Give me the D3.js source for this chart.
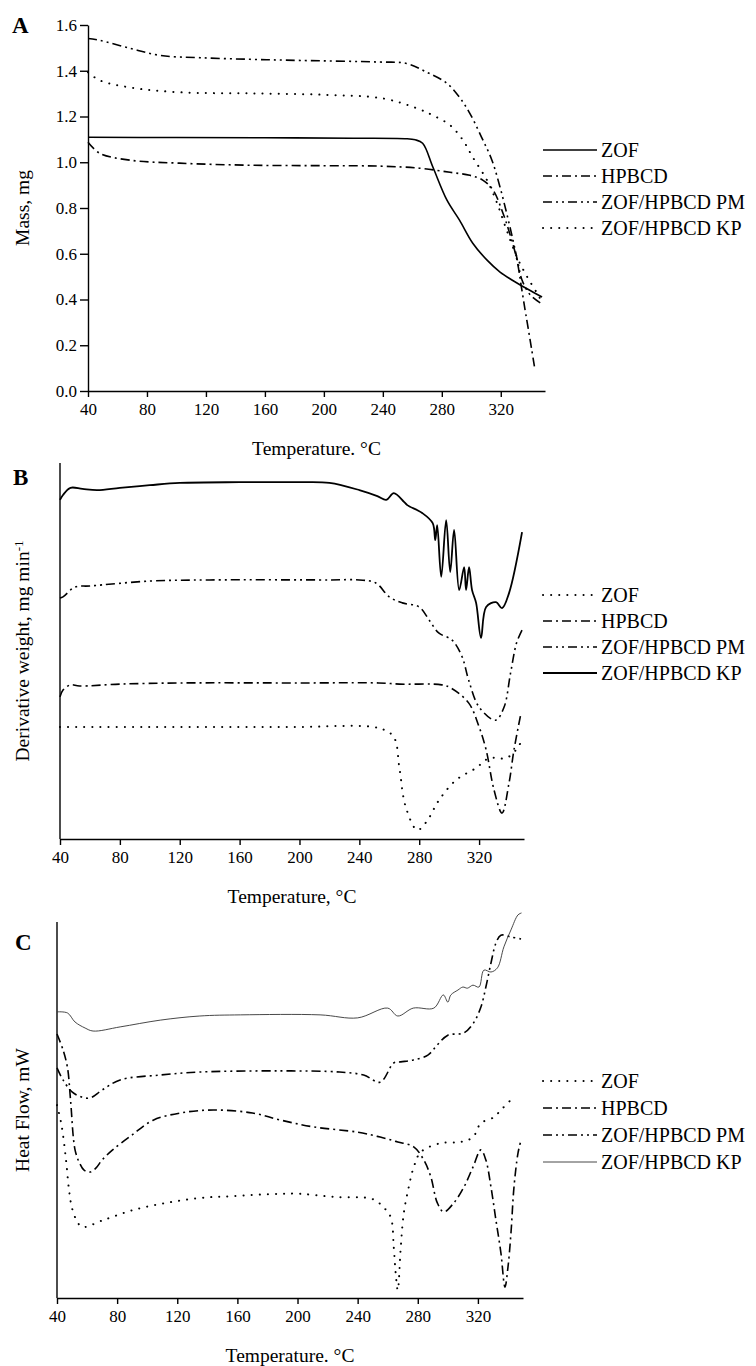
<!DOCTYPE html>
<html>
<head>
<meta charset="utf-8">
<script src="https://cdn.jsdelivr.net/npm/d3@7"></script>
<style>
  body { margin: 0; background: #fff; }
  text { font-family: "Liberation Serif", "Times New Roman", serif; fill: #000; }
</style>
</head>
<body>
<svg id="fig" width="756" height="1366"></svg>
<script>
// series names (legend text)
var names = ["ZOF", "HPBCD", "ZOF/HPBCD PM", "ZOF/HPBCD KP"];
var tempTicks = [40, 80, 120, 160, 200, 240, 280, 320];
var massTicks = [0.0, 0.2, 0.4, 0.6, 0.8, 1.0, 1.2, 1.4, 1.6];

// A: TGA, mass (mg) vs temperature (C)
var tgaZOF = [[40,1.109],[100,1.108],[160,1.107],[220,1.105],[255,1.103],[262,1.098],[267,1.083],[274,0.978],[283.5,0.834],[292,0.747],[301,0.646],[310.7,0.572],[319.5,0.520],[331,0.472],[342,0.432],[348,0.411]];
var tgaHPBCD = [[40,1.087],[48,1.039],[68.5,1.009],[102,0.996],[150,0.987],[200,0.985],[238,0.983],[265,0.974],[285.6,0.956],[299,0.943],[308,0.921],[314.8,0.878],[321.5,0.777],[326,0.690],[331,0.572],[334,0.454],[336.5,0.354],[338,0.297],[341,0.18],[343,0.1]];
var tgaPM = [[40,1.541],[48,1.533],[68.5,1.498],[89,1.467],[116,1.457],[150,1.450],[184,1.445],[238,1.438],[256,1.432],[270,1.393],[283.5,1.345],[292,1.284],[299,1.214],[307,1.109],[314,1.009],[319.5,0.891],[324,0.777],[328.3,0.659],[331.7,0.559],[334.4,0.485],[340,0.42],[348,0.38]];
var tgaKP = [[40,1.393],[48,1.358],[68.5,1.327],[102,1.306],[150,1.301],[200,1.295],[240,1.279],[263,1.236],[274,1.205],[285.6,1.162],[294.4,1.096],[301,1.022],[310.7,0.921],[317.5,0.821],[324,0.703],[331,0.585],[338,0.498],[344.6,0.428],[348,0.389]];

// B: DTG, derivative weight (arbitrary units, offset traces)
var dtgZOF = [[40,29.8],[100,29.8],[160,29.8],[200,29.8],[253,29.5],[263,27.1],[266.7,19.1],[271,8.5],[278.7,2.4],[284.7,4.5],[293.3,10.4],[304.7,15.7],[318,18.9],[326.7,21.5],[338,21.5],[344.7,23.7],[348,25.8]];
var dtgHPBCD = [[40,37.8],[42,39.6],[47,41.0],[53,40.7],[80,41.2],[120,41.5],[200,41.5],[253,41.5],[266.7,41.2],[295,41.0],[301,40.2],[313,36.2],[320,29.8],[324.7,23.7],[330,13.0],[335.3,6.9],[340,14.9],[343.3,23.7],[348,33.5]];
var dtgPM = [[40,64.1],[42,64.4],[50,67.0],[60,67.3],[100,68.6],[140,68.9],[220,68.9],[240,68.9],[251,68.1],[260,64.4],[268.7,62.8],[280,61.7],[286.7,58.2],[293,54.8],[302,52.9],[308.7,48.4],[313,42.3],[320,35.1],[331,31.6],[336.7,35.1],[341,44.1],[345,52.1],[348.7,55.6]];
var dtgKP = [[40,90.2],[42,91.5],[47,93.4],[55,93.1],[65,92.8],[80,93.4],[100,94.1],[120,94.7],[160,94.9],[200,94.9],[220,94.7],[240,92.8],[252,91.2],[258,90.2],[263,92.0],[270,89.6],[272,88.8],[282,86.7],[289,84.0],[290.7,79.5],[292,83.5],[294.7,69.7],[298,84.8],[300.7,71.0],[303.3,82.2],[306.7,66.2],[310,72.3],[311.3,66.2],[313.3,72.3],[315.3,66.2],[318,62.8],[321.3,53.5],[324.7,61.7],[331.3,63.0],[335.3,61.4],[340,65.4],[348.7,81.6]];

// C: DSC, heat flow (arbitrary units, offset traces)
var dscZOF = [[40,51.3],[43,46.0],[46,36.7],[48,28.7],[50,23.9],[53,20.7],[56.7,18.9],[70.7,20.7],[90.7,23.4],[113,25.3],[135,26.6],[157,27.1],[186.7,27.7],[202,27.7],[224,26.9],[250,26.3],[257,24.2],[262,21.5],[264,13.6],[265.3,6.6],[266.7,2.1],[268.7,13.6],[270.7,22.6],[274,29.5],[277.3,34.8],[282,38.8],[295.3,41.2],[308.7,41.5],[316.7,42.8],[322,46.5],[330.7,48.1],[335.3,50.0],[344,53.5]];
var dscHPBCD = [[40,70.2],[44,66.0],[47,61.2],[49,52.7],[52,39.4],[55,35.9],[58,34.0],[62,33.5],[66,34.6],[70,36.7],[77,39.4],[90,43.4],[104,47.3],[122,49.2],[144,50.0],[170,49.2],[189,47.3],[210.7,45.5],[240,44.1],[255,42.8],[266.7,41.5],[277.3,40.2],[284,36.7],[288.7,32.2],[293,25.3],[297.3,22.9],[304,25.3],[310.7,29.5],[316.7,34.8],[322,39.4],[325.3,36.7],[328.7,29.5],[332,20.7],[335.3,12.0],[338,2.9],[340,8.2],[342,17.3],[344,29.5],[346.7,38.6],[348.7,42.0]];
var dscPM = [[40,61.2],[44,58.0],[50,54.8],[56,53.5],[62,53.2],[70,55.3],[82,58.0],[108.7,59.3],[135,60.1],[188,60.4],[228,60.1],[244,59.3],[255,57.4],[264,62.5],[268.7,62.8],[277,63.3],[286.7,64.6],[293,67.3],[300,69.9],[310.7,70.5],[317,73.1],[322,77.4],[325.3,82.7],[328.7,89.1],[332,94.4],[335.3,96.5],[342,96.0],[348.7,95.5]];
var dscKP = [[40,76.1],[47,75.8],[52,73.4],[58.7,71.8],[64,71.0],[82,72.1],[108.7,73.9],[135,75.0],[162,75.3],[215,75.3],[240,74.5],[260,77.1],[266.7,75.0],[277,77.1],[290.7,77.1],[297,80.6],[300,78.7],[302,80.6],[306.7,81.9],[310,82.7],[313,82.4],[316.7,83.2],[320.7,82.7],[324,87.2],[328.7,86.7],[333,87.8],[337.3,93.4],[342,97.9],[346.7,101.9],[349,102.4]];

var svg = d3.select("#fig");

// line styles
var SOLID = null, DASHDOT = "9,4,2,4", DASHDOTDOT = "9,4,2,4,2,4", DOT = "0.1,8";

var panels = [
  {
    letter: "A", letterPos: [12, 33],
    x0: 88, x1: 545, yTop: 25, yBot: 391, yDomain: [0, 1.6], yTicks: true,
    ylabel: "Mass, mg", ylabelX: 22,
    xlabel: "Temperature. \u00B0C", xlabelY: 455,
    series: [
      { data: tgaZOF, dash: SOLID, w: 1.6, name: names[0] },
      { data: tgaHPBCD, dash: DASHDOT, w: 1.6, name: names[1] },
      { data: tgaPM, dash: DASHDOTDOT, w: 1.6, name: names[2] },
      { data: tgaKP, dash: DOT, w: 2, name: names[3] }
    ],
    legendY: 150, legendGap: 26
  },
  {
    letter: "B", letterPos: [13, 485],
    x0: 60, x1: 524, yTop: 463, yBot: 839, yDomain: [0, 100], yTicks: false,
    ylabel: "Derivative weight, mg min", sup: "-1", ylabelX: 22,
    xlabel: "Temperature, \u00B0C", xlabelY: 903,
    series: [
      { data: dtgZOF, dash: DOT, w: 2, name: names[0] },
      { data: dtgHPBCD, dash: DASHDOT, w: 1.6, name: names[1] },
      { data: dtgPM, dash: DASHDOTDOT, w: 1.6, name: names[2] },
      { data: dtgKP, dash: SOLID, w: 1.8, name: names[3] }
    ],
    legendY: 595, legendGap: 26
  },
  {
    letter: "C", letterPos: [15, 950],
    x0: 57, x1: 523, yTop: 922, yBot: 1298, yDomain: [0, 100], yTicks: false,
    ylabel: "Heat Flow, mW", ylabelX: 22,
    xlabel: "Temperature. \u00B0C", xlabelY: 1362,
    series: [
      { data: dscZOF, dash: DOT, w: 2, name: names[0] },
      { data: dscHPBCD, dash: DASHDOT, w: 1.6, name: names[1] },
      { data: dscPM, dash: DASHDOTDOT, w: 1.6, name: names[2] },
      { data: dscKP, dash: SOLID, w: 0.9, name: names[3], color: "#333" }
    ],
    legendY: 1081, legendGap: 27
  }
];

panels.forEach(function (p) {
  var x = d3.scaleLinear().domain([40, 350]).range([p.x0, p.x1]);
  var y = d3.scaleLinear().domain(p.yDomain).range([p.yBot, p.yTop]);
  var g = svg.append("g");

  // x axis
  var xAxis = d3.axisBottom(x).tickValues(tempTicks).tickSize(6).tickSizeOuter(0).tickPadding(6);
  var xg = g.append("g").attr("transform", "translate(0," + p.yBot + ")").call(xAxis);
  xg.selectAll("text").style("font-size", "17px");
  xg.selectAll("line,path").attr("stroke", "#000").attr("stroke-width", 1.4);

  // y axis
  if (p.yTicks) {
    var yAxis = d3.axisLeft(y).tickValues(massTicks).tickFormat(d3.format(".1f")).tickSize(8).tickSizeOuter(0).tickPadding(3);
    var yg = g.append("g").attr("transform", "translate(" + p.x0 + ",0)").call(yAxis);
    yg.selectAll("text").style("font-size", "17px");
    yg.selectAll("line,path").attr("stroke", "#000").attr("stroke-width", 1.4);
  } else {
    g.append("line").attr("x1", p.x0).attr("x2", p.x0).attr("y1", p.yTop).attr("y2", p.yBot)
      .attr("stroke", "#000").attr("stroke-width", 1.4);
  }

  // curves
  var line = d3.line().x(function (d) { return x(d[0]); }).y(function (d) { return y(d[1]); })
    .curve(d3.curveCatmullRom.alpha(0.5));
  p.series.forEach(function (s) {
    g.append("path").datum(s.data).attr("d", line)
      .attr("fill", "none").attr("stroke", s.color || "#000").attr("stroke-width", s.w)
      .attr("stroke-dasharray", s.dash).attr("stroke-linecap", s.dash === DOT ? "round" : "butt");
  });

  // legend
  p.series.forEach(function (s, i) {
    var ly = p.legendY + i * p.legendGap;
    g.append("line").attr("x1", 543).attr("x2", 597).attr("y1", ly).attr("y2", ly)
      .attr("stroke", s.color || "#000").attr("stroke-width", s.w)
      .attr("stroke-dasharray", s.dash).attr("stroke-linecap", s.dash === DOT ? "round" : "butt");
    g.append("text").attr("x", 601).attr("y", ly + 7).style("font-size", "20px").text(s.name);
  });

  // axis titles
  g.append("text").attr("x", (p.x0 + p.x1) / 2).attr("y", p.xlabelY)
    .attr("text-anchor", "middle").style("font-size", "19.5px").text(p.xlabel);
  var yt = g.append("text").attr("transform", "translate(" + (p.ylabelX + 7) + "," + ((p.yTop + p.yBot) / 2) + ") rotate(-90)")
    .attr("text-anchor", "middle").style("font-size", "19.5px").text(p.ylabel);
  if (p.sup) {
    yt.append("tspan").attr("dy", "-0.5em").style("font-size", "13px").text(p.sup);
  }

  // panel letter
  g.append("text").attr("x", p.letterPos[0]).attr("y", p.letterPos[1])
    .style("font-size", "23px").style("font-weight", "bold").text(p.letter);
});
</script>
</body>
</html>
